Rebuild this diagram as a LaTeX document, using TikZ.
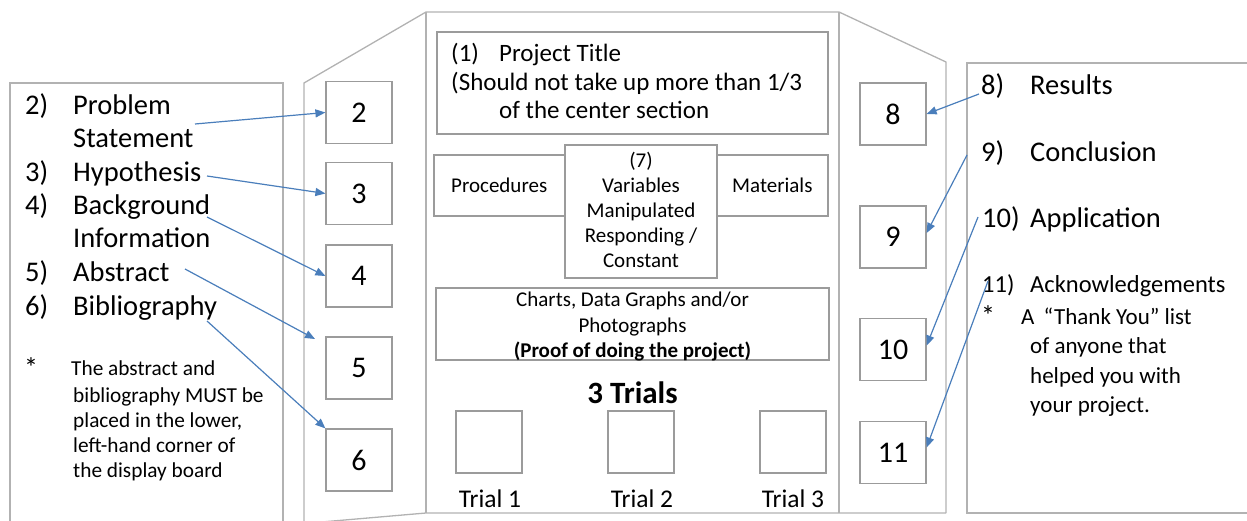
\documentclass[tikz,border=0pt]{standalone}
\usepackage{fontspec}
\setmainfont{Carlito}
\usetikzlibrary{arrows.meta,calc}

\definecolor{boardline}{RGB}{178,178,178}
\definecolor{boxline}{RGB}{155,155,155}
\definecolor{arrowblue}{RGB}{74,126,187}

\newcommand{\fsz}[1]{\fontsize{#1}{#1}\selectfont}

\begin{document}
\begin{tikzpicture}[x=1pt,y=-1pt,
  panel/.style={draw=boardline,line width=1.3pt},
  slot/.style={draw=boxline,line width=1.2pt,fill=white,inner sep=0pt,
    minimum width=66pt,minimum height=62pt,font=\fsz{30}},
  frame/.style={draw=boxline,line width=1.2pt,fill=white,inner sep=0pt},
  link/.style={draw=arrowblue,line width=1.2pt,-{Triangle[length=10pt,width=8pt]}},
  big/.style={anchor=base west,inner sep=0pt,font=\fsz{28.5}},
  mid/.style={anchor=base west,inner sep=0pt,font=\fsz{24.5}},
  note/.style={anchor=base west,inner sep=0pt,font=\fsz{21.3}},
  thanks/.style={anchor=base west,inner sep=0pt,font=\fsz{23}},
  small/.style={anchor=base west,inner sep=0pt,font=\fsz{21}},
  smallc/.style={anchor=base,inner sep=0pt,font=\fsz{21}},
  starmark/.style={anchor=base west,inner sep=0pt,font=\fsz{28}},
]
\useasboundingbox (0,0) rectangle (1247,521);
\clip (0,0) rectangle (1247,521);

% tri-fold display board
\draw[panel] (304,530) -- (304,83) -- (426,12) -- (839,12) -- (946,62) -- (946,513);
\draw[panel] (426,12) -- (426,513);
\draw[panel] (839,12) -- (839,513);
\draw[panel] (304,523.5) -- (426,513) -- (946,513);

% side sheets
\draw[panel] (10,530) -- (10,83) -- (283,83) -- (283,530);
\draw[panel] (1260,63) -- (967,63) -- (967,513) -- (1260,513);

% left wing slots
\node[slot] (box2) at (359,112.5) {2};
\node[slot] (box3) at (359,193.5) {3};
\node[slot] (box4) at (359,276) {4};
\node[slot] (box5) at (359,368) {5};
\node[slot] (box6) at (359,460) {6};

% right wing slots
\node[slot] (box8) at (893,114) {8};
\node[slot] (box9) at (893,237) {9};
\node[slot] (box10) at (893,349.5) {10};
\node[slot] (box11) at (893,452.5) {11};

% centre section
\node[frame,minimum width=391pt,minimum height=102pt] (titlebox) at (632.5,83) {};
\node[mid,font=\fsz{25}] (t1n) at (451,62) {(1)};
\node[mid,font=\fsz{25}] (t1a) at (499,62) {Project Title};
\node[mid,font=\fsz{25}] (t1b) at (451,91) {(Should not take up more than 1/3};
\node[mid,font=\fsz{25}] (t1c) at (499,119) {of the center section};

\node[frame,minimum width=394pt,minimum height=61pt] (band) at (631,185.5) {};
\node[small] (proc) at (451,193) {Procedures};
\node[small] (mat) at (732,193) {Materials};

\node[frame,minimum width=152pt,minimum height=133pt] (varbox) at (641,211.5) {};
\node[smallc] (v1) at (641,168) {(7)};
\node[smallc] (v2) at (641,193) {Variables};
\node[smallc] (v3) at (641,218) {Manipulated};
\node[smallc] (v4) at (641,243) {Responding /};
\node[smallc] (v5) at (641,268) {Constant};

\node[frame,minimum width=393pt,minimum height=72pt] (charts) at (632.5,324) {};
\node[smallc] (c1) at (632.5,306) {Charts, Data Graphs and/or};
\node[smallc] (c2) at (632.5,332) {Photographs};
\node[smallc] (c3) at (632.5,357) {\bfseries (Proof of doing the project)};

\node[anchor=base,inner sep=0pt,font=\fsz{31}\bfseries] (trials) at (632.5,403) {3 Trials};
\node[frame,minimum width=66pt,minimum height=62pt] (tr1) at (489,442) {};
\node[frame,minimum width=66pt,minimum height=62pt] (tr2) at (641,442) {};
\node[frame,minimum width=66pt,minimum height=62pt] (tr3) at (793,442) {};
\node[anchor=base,inner sep=0pt,font=\fsz{25.5}] (tl1) at (490,507) {Trial 1};
\node[anchor=base,inner sep=0pt,font=\fsz{25.5}] (tl2) at (642,507) {Trial 2};
\node[anchor=base,inner sep=0pt,font=\fsz{25.5}] (tl3) at (793,507) {Trial 3};

% left sheet text
\node[big] (n2) at (25,115) {2)};
\node[big] (l2a) at (73,115) {Problem};
\node[big] (l2b) at (73,148) {Statement};
\node[big] (n3) at (25,182) {3)};
\node[big] (l3) at (73,182) {Hypothesis};
\node[big] (n4) at (25,215) {4)};
\node[big] (l4a) at (73,215) {Background};
\node[big] (l4b) at (73,248) {Information};
\node[big] (n5) at (25,282) {5)};
\node[big] (l5) at (73,282) {Abstract};
\node[big] (n6) at (25,315) {6)};
\node[big] (l6) at (73,315) {Bibliography};

\node[starmark] (lstar) at (24,377) {*};
\node[note] (ln1) at (71,375) {The abstract and};
\node[note] (ln2) at (73,402) {bibliography MUST be};
\node[note] (ln3) at (73,427) {placed in the lower,};
\node[note] (ln4) at (73,452) {left-hand corner of};
\node[note] (ln5) at (73,477) {the display board};

% right sheet text
\node[big] (n8) at (981,95) {8)};
\node[big] (r8) at (1030,95) {Results};
\node[big] (n9) at (981,162) {9)};
\node[big] (r9) at (1030,162) {Conclusion};
\node[big] (n10) at (982,228) {10)};
\node[big] (r10) at (1030,228) {Application};
\node[mid] (n11) at (982,292) {11)};
\node[mid] (r11) at (1030,292) {Acknowledgements};
\node[starmark] (rstar) at (981,325) {*};
\node[thanks] (rt1) at (1021,324) {A\hspace{9pt}“Thank You” list};
\node[thanks] (rt2) at (1030,353) {of anyone that};
\node[thanks] (rt3) at (1030,383) {helped you with};
\node[thanks] (rt4) at (1030,412) {your project.};

% arrow start points within the text
\coordinate (s2) at (195,124);
\coordinate (s3) at (207,176);
\coordinate (s4) at (207,217);
\coordinate (s5) at (185,269);
\coordinate (e5) at (315,339);
\coordinate (s6) at (207,321);
\coordinate (s8) at (979,94);
\coordinate (s9) at (967,155);
\coordinate (s10) at (978,217);
\coordinate (s11) at (988,281);

% pointers from the sheets to the slots
\draw[link] (s2) -- (box2.west);
\draw[link] (s3) -- (box3.west);
\draw[link] (s4) -- (box4.west);
\draw[link] (s5) -- (e5);
\draw[link] (s6) -- (box6.north west);
\draw[link] (s8) -- (box8.east);
\draw[link] (s9) -- ($(box9.east)+(0,-4)$);
\draw[link] (s10) -- ($(box10.east)+(0,-4)$);
\draw[link] (s11) -- ($(box11.east)+(0,-5)$);
\end{tikzpicture}
\end{document}
